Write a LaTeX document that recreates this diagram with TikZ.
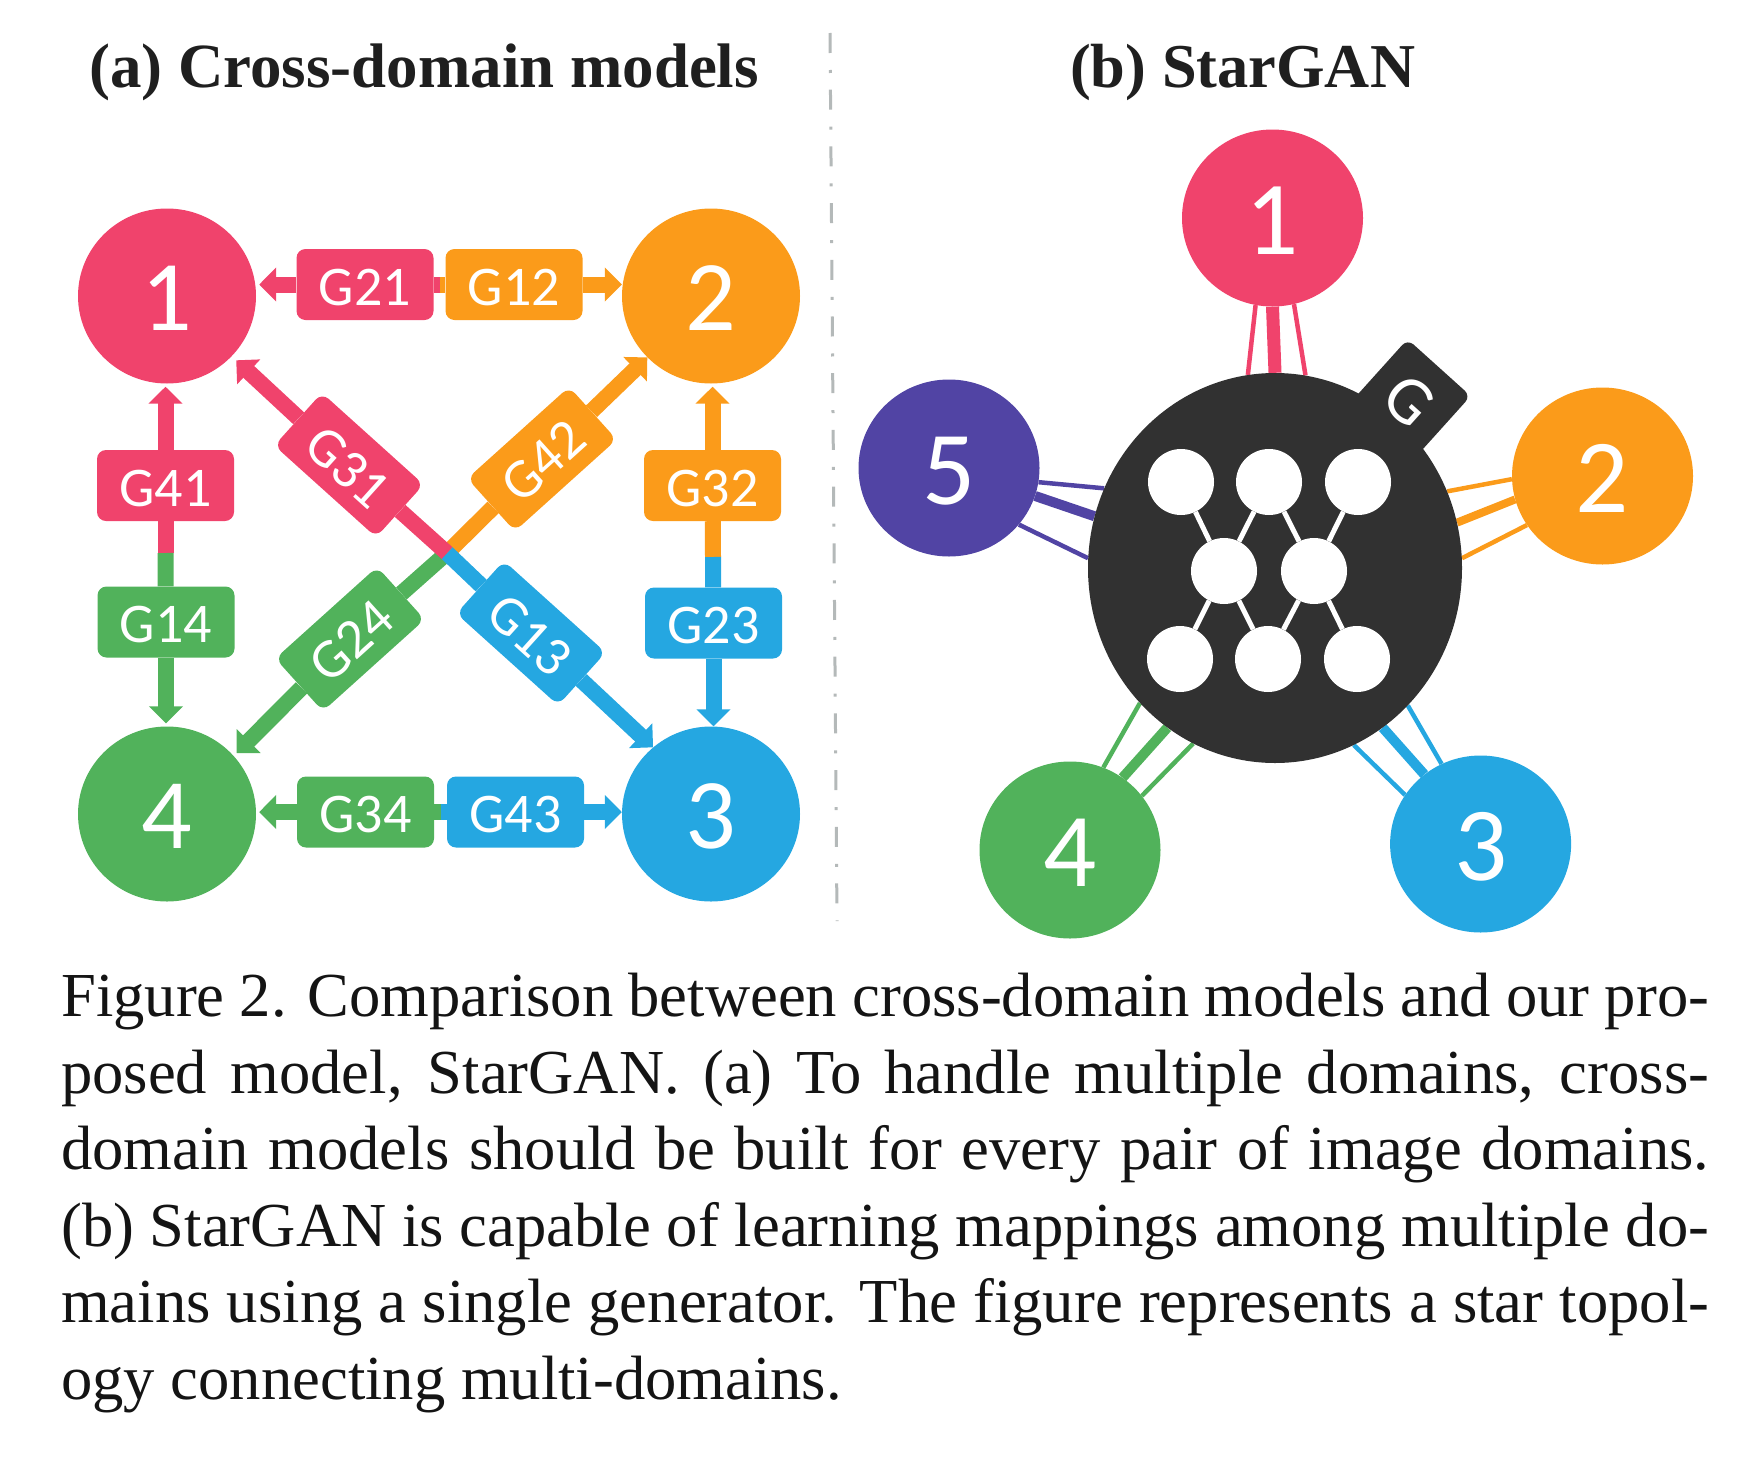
\documentclass[tikz,border=0pt]{standalone}
\usepackage{fontspec}
\setmainfont{Liberation Serif}
\newfontfamily\labelfont{Carlito}
\usetikzlibrary{arrows.meta,shapes.geometric,backgrounds}
\definecolor{dompink}{HTML}{F0436C}
\definecolor{domorange}{HTML}{FB9B1A}
\definecolor{domgreen}{HTML}{51B25B}
\definecolor{domblue}{HTML}{25A7E1}
\definecolor{dompurple}{HTML}{5144A4}
\definecolor{hubgray}{HTML}{313131}
\definecolor{divgray}{HTML}{B4B9B9}

\begin{document}
\begin{tikzpicture}[x=1pt,y=-1pt,
  domain/.style={ellipse,fill=#1,text=white,inner sep=0pt,minimum width=178pt,minimum height=175pt,text height=68pt,text depth=0pt,font=\labelfont\fontsize{100}{100}\selectfont},
  domainb/.style={domain=#1,minimum width=181pt,minimum height=177pt,text height=73pt,font=\labelfont\fontsize{105}{105}\selectfont},
  gbox/.style={rectangle,rounded corners=9pt,fill=#1,text=white,inner sep=0pt,minimum width=137pt,minimum height=71pt,text height=41pt,text depth=0pt,font=\labelfont\fontsize{56}{56}\selectfont},
  shaft/.style={draw=#1,line width=16pt},
  arrowline/.style={draw=#1,line width=16pt,-{Triangle[width=33pt,length=17pt]},shorten >=3pt},
  neuron/.style={circle,fill=white,inner sep=0pt,minimum size=66pt},
  link/.style={draw=white,line width=5pt},
  spoke/.style={draw=#1,line width=4.5pt},
  spokeb/.style={draw=#1,line width=10pt},
  paneltitle/.style={anchor=base west,inner sep=0pt,text=black!88,font=\bfseries\fontsize{#1}{#1}\selectfont}]
  \useasboundingbox (0,0) rectangle (1744,1472);

  % titles and divider
  \node [paneltitle=62.9] (titlea) at (89,88) {(a) Cross-domain models};
  \node [paneltitle=62.4] (titleb) at (1070,88) {(b) StarGAN};
  \coordinate (divtop) at (830,33);
  \coordinate (divbot) at (837,921);
  \draw [divgray,line width=3pt,dash pattern=on 20pt off 17pt on 3pt off 16.7pt] (divtop) -- (divbot);

  % cross-domain models
  \node [domain=dompink] (a1) at (167,296) {1};
  \node [domain=domorange] (a2) at (711,296) {2};
  \node [domain=domblue] (a3) at (711,814) {3};
  \node [domain=domgreen] (a4) at (167,814) {4};

  \node [gbox=dompink] (g21) at (365,284.5) {G21};
  \node [gbox=domorange] (g12) at (514,284.5) {G12};
  \node [gbox=domgreen] (g34) at (365.5,812) {G34};
  \node [gbox=domblue] (g43) at (515.5,812) {G43};
  \node [gbox=dompink] (g41) at (165.5,485.5) {G41};
  \node [gbox=domgreen] (g14) at (166,622) {G14};
  \node [gbox=domorange] (g32) at (712.5,485.5) {G32};
  \node [gbox=domblue] (g23) at (713.5,623) {G23};
  \node [gbox=dompink,rotate=-42] (g31) at (349,465) {G31};
  \node [gbox=domorange,rotate=42] (g42) at (542,459) {G42};
  \node [gbox=domgreen,rotate=42] (g24) at (350,639) {G24};
  \node [gbox=domblue,rotate=-42] (g13) at (531,633) {G13};

  \coordinate (jtop) at (440,284.5);
  \coordinate (jbot) at (441,812);
  \coordinate (jleft) at (165.5,553);
  \coordinate (jright) at (713,557);
  \coordinate (jmid) at (447,553);

  \begin{scope}[on background layer]
    \draw [shaft=dompink] (jtop) -- (g21);
    \draw [shaft=domorange] (jtop) -- (g12);
    \draw [shaft=domgreen] (jbot) -- (g34);
    \draw [shaft=domblue] (jbot) -- (g43);
    \draw [shaft=dompink] (jleft) -- (g41);
    \draw [shaft=domgreen] (jleft) -- (g14);
    \draw [shaft=domorange] (jright) -- (g32);
    \draw [shaft=domblue] (jright) -- (g23);
    \draw [shaft=domgreen] (jmid) -- (g24);
    \draw [shaft=domorange] (jmid) -- (g42);
    \draw [shaft=domblue] (jmid) -- (g13);
    \draw [shaft=dompink] (jmid) -- (g31);
    \draw [arrowline=dompink] (g21) -- (g21 -| a1.east);
    \draw [arrowline=domorange,shorten >=0pt] (g12) -- (g12 -| a2.west);
    \draw [arrowline=domgreen] (g34) -- (g34 -| a4.east);
    \draw [arrowline=domblue,shorten >=0pt] (g43) -- (g43 -| a3.west);
    \draw [arrowline=dompink] (g41) -- (g41 |- a1.south);
    \draw [arrowline=domgreen] (g14) -- (g14 |- a4.north);
    \draw [arrowline=domorange] (g32) -- (g32 |- a2.south);
    \draw [arrowline=domblue,shorten >=0pt] (g23) -- (g23 |- a3.north);
    \draw [arrowline=dompink,shorten >=6pt] (g31) -- (a1);
    \draw [arrowline=domorange,shorten >=0pt] (g42) -- (a2);
    \draw [arrowline=domgreen,shorten >=4pt] (g24) -- (a4.41.5);
    \draw [arrowline=domblue,shorten >=0pt] (g13) -- (a3.131);
  \end{scope}

  % stargan
  \node [ellipse,fill=hubgray,inner sep=0pt,minimum width=374pt,minimum height=390pt] (hub) at (1275,568) {};
  \node [rectangle,rounded corners=8pt,fill=hubgray,text=white,rotate=-42,inner sep=0pt,minimum width=85pt,minimum height=90pt,font=\labelfont\fontsize{68}{68}\selectfont] (tag) at (1409,401) {G};

  \node [domainb=dompink] (b1) at (1272.5,218) {1};
  \node [domainb=domorange] (b2) at (1602.5,476) {2};
  \node [domainb=domblue] (b3) at (1480.6,844) {3};
  \node [domainb=domgreen] (b4) at (1070,850) {4};
  \node [domainb=dompurple] (b5) at (949,468) {5};

  \node [neuron] (t1) at (1181,482) {};
  \node [neuron] (t2) at (1269,482) {};
  \node [neuron] (t3) at (1358,482) {};
  \node [neuron] (m1) at (1224,571) {};
  \node [neuron] (m2) at (1314,571) {};
  \node [neuron] (u1) at (1180,659) {};
  \node [neuron] (u2) at (1268,659) {};
  \node [neuron] (u3) at (1357,659) {};
  \draw [link] (t1) -- (m1);
  \draw [link] (t2) -- (m1);
  \draw [link] (t2) -- (m2);
  \draw [link] (t3) -- (m2);
  \draw [link] (m1) -- (u1);
  \draw [link] (m1) -- (u2);
  \draw [link] (m2) -- (u2);
  \draw [link] (m2) -- (u3);

  \begin{scope}[on background layer]
    \draw [spoke=dompink] (b1.-101.7) -- (hub.98.9);
    \draw [spokeb=dompink,line width=13pt] (b1.-90) -- (hub.90);
    \draw [spoke=dompink] (b1.-76.7) -- (hub.81.2);
    \draw [spoke=domorange] (b2.182.5) -- (hub.24);
    \draw [spokeb=domorange,line width=8pt] (b2.195) -- (hub.14.5);
    \draw [spoke=domorange] (b2.213.5) -- (hub.3.7);
    \draw [spoke=domblue] (b3.116.6) -- (hub.-46.5);
    \draw [spokeb=domblue] (b3.129.3) -- (hub.-56);
    \draw [spoke=domblue] (b3.147.4) -- (hub.-66.3);
    \draw [spoke=domgreen] (b4.68) -- (hub.-135.2);
    \draw [spokeb=domgreen] (b4.54.8) -- (hub.-124.2);
    \draw [spoke=domgreen] (b4.37.4) -- (hub.-115);
    \draw [spoke=dompurple] (b5.-9.4) -- (hub.155.9);
    \draw [spokeb=dompurple] (b5.-18.8) -- (hub.164.7);
    \draw [spoke=dompurple] (b5.-39.6) -- (hub.177.2);
  \end{scope}

  % caption
  \node [anchor=north west,inner sep=0pt,text width=1648pt,align=justify,text=black!92,font=\fontsize{62.6}{76.5}\selectfont] (caption) at (61,973)
    {Figure 2. Comparison between cross-domain models and our pro-\linebreak
    posed model, StarGAN. (a) To handle multiple domains, cross-\linebreak
    domain models should be built for every pair of image domains.\linebreak
    (b) StarGAN is capable of learning mappings among multiple do-\linebreak
    mains using a single generator. The figure represents a star topol-\linebreak
    ogy connecting multi-domains.};
\end{tikzpicture}
\end{document}
